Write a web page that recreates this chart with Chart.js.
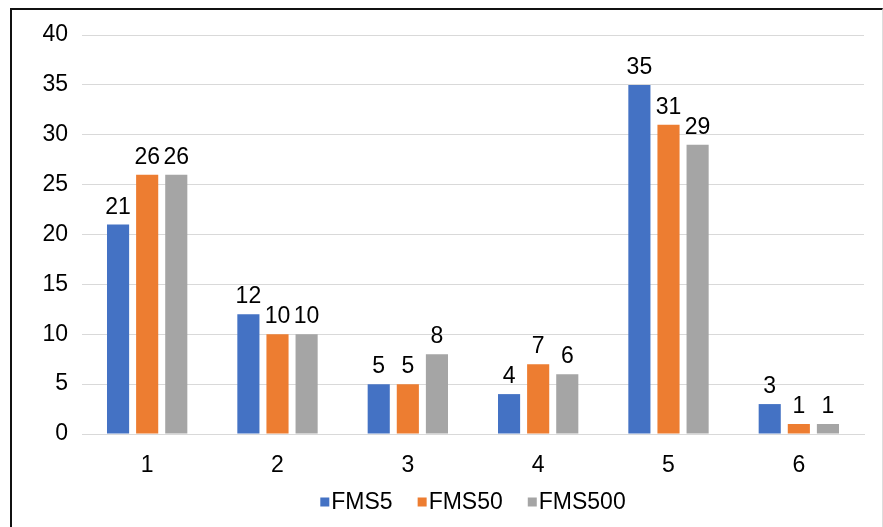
<!DOCTYPE html>
<html>
<head>
<meta charset="utf-8">
<script src="https://cdn.jsdelivr.net/npm/chart.js@4/dist/chart.umd.min.js"></script>
<style>
  html, body { margin: 0; padding: 0; background: #fff; }
  #wrap { position: relative; width: 883px; height: 527px; overflow: hidden; }
  #frame {
    position: absolute; left: 10px; top: 8px; width: 870px; height: 530px;
    border-left: 2px solid #111; border-top: 2px solid #111; border-right: 1px solid #ddd;
  }
  #chart7 { position: absolute; left: 0; top: 0; }
</style>
</head>
<body>
<div id="wrap">
  <div id="frame"></div>
  <canvas id="chart7" width="883" height="527"></canvas>
</div>
<script>
const categories = ['1', '2', '3', '4', '5', '6'];
const fms5 = [21, 12, 5, 4, 35, 3];
const fms50 = [26, 10, 5, 7, 31, 1];
const fms500 = [26, 10, 8, 6, 29, 1];
const yTicks = [0, 5, 10, 15, 20, 25, 30, 35, 40];

const FONT = "'Liberation Sans', Arial, sans-serif";

// nilai di atas batang
const barLabels = {
    id: 'barLabels',
    afterDatasetsDraw(chart) {
        const ctx = chart.ctx;
        ctx.save();
        ctx.font = '23px ' + FONT;
        ctx.fillStyle = '#000';
        ctx.textAlign = 'center';
        ctx.textBaseline = 'alphabetic';
        chart.data.datasets.forEach((ds, i) => {
            chart.getDatasetMeta(i).data.forEach((bar, j) => {
                ctx.fillText(ds.data[j], bar.x, bar.y - 11);
            });
        });
        ctx.restore();
    }
};

// legenda rapat ala Excel di bawah
const tightLegend = {
    id: 'tightLegend',
    afterDraw(chart) {
        const ctx = chart.ctx;
        const box = 9, gap = 2, itemGap = 25, y = 502;
        ctx.save();
        ctx.font = '23px ' + FONT;
        ctx.textBaseline = 'middle';
        const items = chart.data.datasets.map(ds => ({
            label: ds.label, color: ds.backgroundColor, w: ctx.measureText(ds.label).width
        }));
        const total = items.reduce((s, it) => s + box + gap + it.w, 0) + itemGap * (items.length - 1);
        const area = chart.chartArea;
        let x = (area.left + area.right) / 2 - total / 2;
        items.forEach(it => {
            ctx.fillStyle = it.color;
            ctx.fillRect(x, y - box / 2, box, box);
            ctx.fillStyle = '#000';
            ctx.fillText(it.label, x + box + gap, y + 1);
            x += box + gap + it.w + itemGap;
        });
        ctx.restore();
    }
};

const cht7 = document.getElementById('chart7');
new Chart(cht7, {
    type: 'bar',
    data: {
        labels: categories,
        datasets: [
            { label: 'FMS5', data: fms5, backgroundColor: '#4472C4' },
            { label: 'FMS50', data: fms50, backgroundColor: '#ED7D31' },
            { label: 'FMS500', data: fms500, backgroundColor: '#A5A5A5' }
        ]
    },
    options: {
        responsive: false,
        animation: false,
        categoryPercentage: 0.67,
        barPercentage: 0.76,
        layout: { padding: { left: 0, right: 19, top: 35, bottom: 50 } },
        plugins: {
            tooltip: { enabled: false },
            legend: { display: false }
        },
        scales: {
            x: {
                afterFit(scale) { scale.height = 43; },
                grid: { display: false },
                border: { display: true, color: '#d9d9d9', width: 1 },
                ticks: { font: { family: FONT, size: 23 }, color: '#000', padding: 10 }
            },
            y: {
                min: 0,
                max: 40,
                afterFit(scale) { scale.width = 82; },
                afterBuildTicks(scale) { scale.ticks = yTicks.map(v => ({ value: v })); },
                grid: { color: '#d9d9d9', drawTicks: false },
                border: { display: false },
                ticks: { font: { family: FONT, size: 23 }, color: '#000', padding: 14 }
            }
        }
    },
    plugins: [barLabels, tightLegend]
});
</script>
</body>
</html>
